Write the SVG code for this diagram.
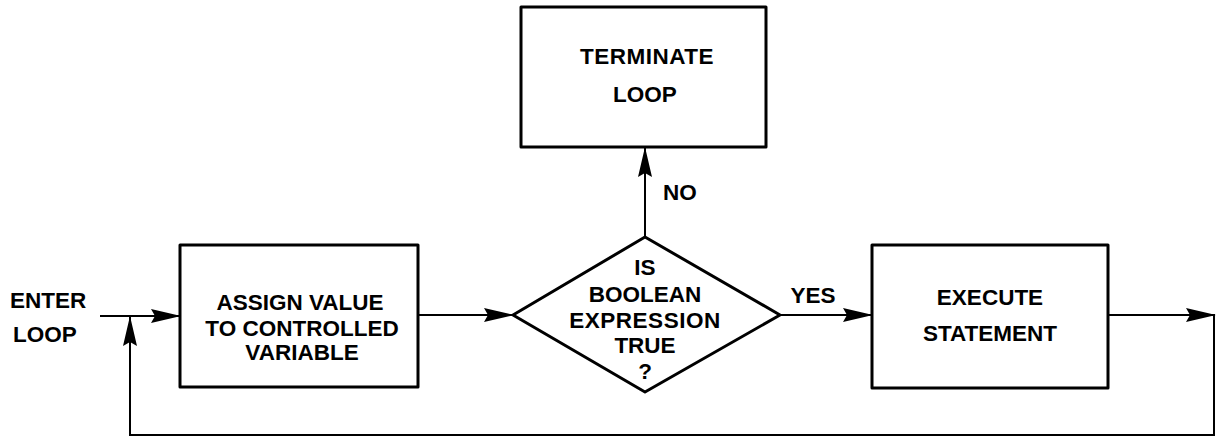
<svg xmlns="http://www.w3.org/2000/svg" width="1225" height="440" viewBox="0 0 1225 440">
  <style>
    .box { fill: #fff; stroke: #000; stroke-width: 3; stroke-linejoin: round; }
    .line { fill: none; stroke: #000; stroke-width: 2; }
    .label { font-family: "Liberation Sans", Arial, sans-serif; font-weight: bold; font-size: 22.5px; fill: #000; }
    .mid { text-anchor: middle; }
  </style>
  <defs>
    <marker id="arrow" viewBox="0 0 30 14" refX="29" refY="7" markerWidth="30" markerHeight="14" markerUnits="userSpaceOnUse" orient="auto">
      <path d="M0,0 L30,7 L0,14 L4,7 z" fill="#000"/>
    </marker>
  </defs>
  <rect width="1225" height="440" fill="#fff"/>

  <!-- connectors -->
  <g id="connectors">
    <path class="line" d="M100,316 L180,316" marker-end="url(#arrow)"/>
    <path class="line" d="M1108,315 L1215,315" marker-end="url(#arrow)"/>
    <path class="line" d="M1214,315 L1214,435 L130,435 L130,317" marker-end="url(#arrow)"/>
    <path class="line" d="M418,315 L513,315" marker-end="url(#arrow)"/>
    <path class="line" d="M780,315 L872,315" marker-end="url(#arrow)"/>
    <path class="line" d="M645,237 L645,148" marker-end="url(#arrow)"/>
    <text class="label" x="10" y="308">ENTER</text>
    <text class="label" x="13" y="342">LOOP</text>
    <text class="label mid" x="813" y="303">YES</text>
    <text class="label" x="663" y="200">NO</text>
  </g>

  <!-- nodes -->
  <g id="terminate">
    <rect class="box" x="521" y="7" width="245" height="140"/>
    <text class="label mid" x="647" y="64" letter-spacing="0.5">TERMINATE</text>
    <text class="label mid" x="645" y="102">LOOP</text>
  </g>

  <g id="assign">
    <rect class="box" x="180" y="245" width="238" height="142"/>
    <text class="label mid" x="300" y="310">ASSIGN VALUE</text>
    <text class="label mid" x="302" y="336">TO CONTROLLED</text>
    <text class="label mid" x="302" y="360">VARIABLE</text>
  </g>

  <g id="decision">
    <polygon class="box" points="645,237 780,315 645,392 513,315"/>
    <text class="label mid" x="645" y="275">IS</text>
    <text class="label mid" x="645" y="302">BOOLEAN</text>
    <text class="label mid" x="645" y="328" letter-spacing="0.5">EXPRESSION</text>
    <text class="label mid" x="645" y="353">TRUE</text>
    <text class="label mid" x="645" y="379">?</text>
  </g>

  <g id="execute">
    <rect class="box" x="872" y="245" width="236" height="143"/>
    <text class="label mid" x="990" y="305">EXECUTE</text>
    <text class="label mid" x="990" y="341">STATEMENT</text>
  </g>
</svg>
